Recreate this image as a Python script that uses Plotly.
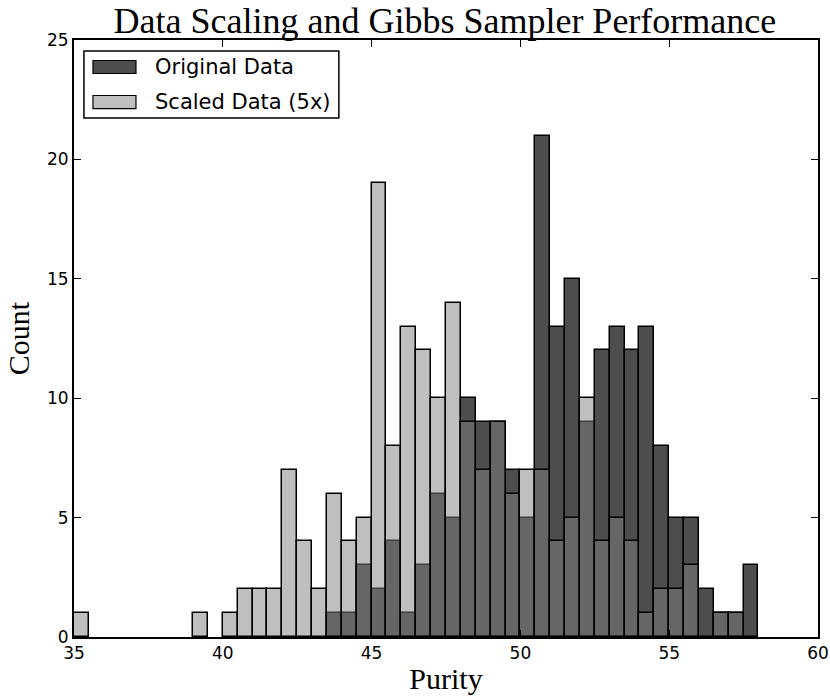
import plotly.graph_objects as go

bin_width = 0.5
orig_left = [43.5, 44.0, 44.5, 45.0, 45.5, 46.0, 46.5, 47.0, 47.5, 48.0, 48.5, 49.0, 49.5, 50.0,
             50.5, 51.0, 51.5, 52.0, 52.5, 53.0, 53.5, 54.0, 54.5, 55.0, 55.5, 56.0, 56.5, 57.0, 57.5]
orig_counts = [1, 1, 3, 2, 4, 1, 3, 6, 5, 10, 9, 9, 7, 5,
               21, 13, 15, 9, 12, 13, 12, 13, 8, 5, 5, 2, 1, 1, 3]

scaled_left = [35.0, 39.0, 40.0, 40.5, 41.0, 41.5, 42.0, 42.5, 43.0, 43.5, 44.0, 44.5, 45.0, 45.5,
               46.0, 46.5, 47.0, 47.5, 48.0, 48.5, 49.0, 49.5, 50.0, 50.5, 51.0, 51.5, 52.0, 52.5,
               53.0, 53.5, 54.0, 54.5, 55.0, 55.5, 56.5, 57.0]
scaled_counts = [1, 1, 1, 2, 2, 2, 7, 4, 2, 6, 4, 5, 19, 8,
                 13, 12, 10, 14, 9, 7, 9, 6, 7, 7, 4, 5, 10, 4,
                 5, 4, 1, 2, 2, 3, 1, 1]

x_ticks = [35, 40, 45, 50, 55, 60]
y_ticks = [0, 5, 10, 15, 20, 25]

series_names = ["Original Data", "Scaled Data (5x)"]
orig_color = "rgb(77,77,77)"
scaled_color = "rgba(127,127,127,0.5)"

fig = go.Figure()
fig.add_trace(go.Bar(
    x=[v + bin_width / 2 for v in orig_left], y=orig_counts, width=bin_width,
    name=series_names[0], marker=dict(color=orig_color, line=dict(color="black", width=1.5)),
))
fig.add_trace(go.Bar(
    x=[v + bin_width / 2 for v in scaled_left], y=scaled_counts, width=bin_width,
    name=series_names[1], marker=dict(color=scaled_color, line=dict(color="black", width=1.5)),
))

axis_common = dict(
    showgrid=False, zeroline=False, showline=True, linecolor="black", linewidth=2,
    mirror="ticks", ticks="inside", ticklen=7, tickwidth=1, tickcolor="black",
    tickfont=dict(family="DejaVu Sans", size=17, color="black"), automargin=False,
)

# Manual legend (matplotlib-style wide patches)
fig.add_shape(type="rect", xref="paper", yref="paper", x0=0.0134, x1=0.356, y0=0.8693, y1=0.9816,
              line=dict(color="black", width=1.5), fillcolor="white", layer="above")
patch_rows = [(0.9548, "rgb(77,77,77)"), (0.8961, "rgb(191,191,191)")]
for (yc, col), name in zip(patch_rows, series_names):
    fig.add_shape(type="rect", xref="paper", yref="paper", x0=0.0255, x1=0.0833,
                  y0=yc - 0.0109, y1=yc + 0.0109,
                  line=dict(color="black", width=1.2), fillcolor=col, layer="above")
    fig.add_annotation(xref="paper", yref="paper", x=0.1062, y=yc, xanchor="left", yanchor="middle",
                       text=name, showarrow=False,
                       font=dict(family="DejaVu Sans", size=21, color="black"))

fig.update_layout(
    width=830, height=696,
    margin=dict(l=74, r=12, t=40, b=59),
    paper_bgcolor="white", plot_bgcolor="white",
    barmode="overlay", bargap=0, showlegend=False,
    title=dict(text="Data Scaling and Gibbs Sampler Performance",
               font=dict(family="Liberation Serif", size=36, color="black"),
               x=0.536, xanchor="center", xref="container",
               y=0.970, yanchor="middle", yref="container"),
    xaxis=dict(range=[35, 60], tickvals=x_ticks,
               title=dict(text="Purity", font=dict(family="Liberation Serif", size=30, color="black"), standoff=6),
               **axis_common),
    yaxis=dict(range=[0, 25], tickvals=y_ticks,
               title=dict(text="Count", font=dict(family="Liberation Serif", size=30, color="black"), standoff=8),
               **axis_common),
)

fig.write_html("out.html")
